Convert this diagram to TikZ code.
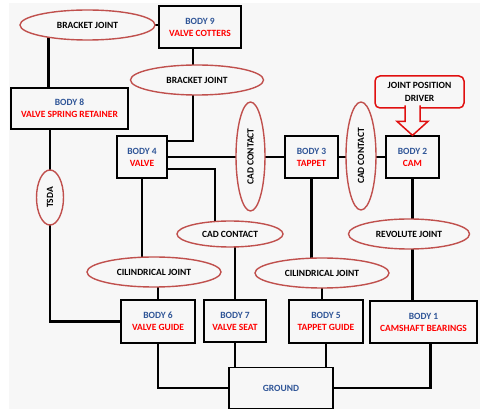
\documentclass[tikz,border=0pt]{standalone}
\usepackage{fontspec}
\setmainfont{Carlito}
\usetikzlibrary{shapes.geometric,backgrounds}
\definecolor{jointred}{HTML}{C0504D}
\definecolor{bodyblue}{HTML}{2F5597}
\definecolor{namered}{HTML}{FF0000}
\definecolor{drvred}{HTML}{E01010}
\definecolor{paper}{HTML}{F7F7F7}
\tikzset{every node/.append style={font=\bfseries\fontsize{9.5}{12}\selectfont}}
\tikzset{
  body/.style={draw, line width=1.3pt, fill=paper, align=center, inner sep=1pt, minimum height=42pt},
  joint/.style={draw=jointred, shape=ellipse, line width=1.4pt, fill=paper, inner sep=1pt},
  link/.style={line width=2.6pt},
  drvline/.style={draw=drvred, line width=1.5pt}
}
\newcommand{\bodytext}[2]{\textcolor{bodyblue}{BODY #1}\\\textcolor{namered}{#2}}

\begin{document}
\begin{tikzpicture}[x=1pt, y=-1pt]
    \useasboundingbox (0,0) rectangle (480,409);

    \node[body, minimum width=82pt] (b9) at (200,27) {\bodytext{9}{VALVE COTTERS}};
    \node[body, minimum width=117pt, minimum height=41pt] (b8) at (69.5,108.5) {\bodytext{8}{VALVE SPRING RETAINER}};
    \node[body, minimum width=50pt] (b4) at (142,157) {\bodytext{4}{VALVE}};
    \node[body, minimum width=53pt] (b3) at (311.5,157) {\bodytext{3}{TAPPET}};
    \node[body, minimum width=53pt] (b2) at (412.5,157) {\bodytext{2}{CAM}};
    \node[body, minimum width=74pt, minimum height=43pt] (b6) at (158,321.5) {\bodytext{6}{VALVE GUIDE}};
    \node[body, minimum width=62pt] (b7) at (235,321) {\bodytext{7}{VALVE SEAT}};
    \node[body, minimum width=74pt, minimum height=43pt] (b5) at (326,321.5) {\bodytext{5}{TAPPET GUIDE}};
    \node[body, minimum width=107pt] (b1) at (423.5,322) {\bodytext{1}{CAMSHAFT BEARINGS}};
    \node[body, minimum width=104pt, minimum height=41pt, text=bodyblue] (gnd) at (281,388) {GROUND};

    \node[joint, minimum width=135pt, minimum height=30pt] (bj1) at (87.5,25) {BRACKET JOINT};
    \node[joint, minimum width=133pt, minimum height=30pt] (bj2) at (197,80) {BRACKET JOINT};
    \node[joint, rotate=90, minimum width=109pt, minimum height=29pt] (cad1) at (250.5,156.5) {CAD CONTACT};
    \node[joint, rotate=90, minimum width=108pt, minimum height=30pt] (cad2) at (361,156) {CAD CONTACT};
    \node[joint, minimum width=106pt, minimum height=26pt] (cad3) at (230,234) {CAD CONTACT};
    \node[joint, minimum width=134pt, minimum height=30pt] (cyl1) at (154,272) {CILINDRICAL JOINT};
    \node[joint, minimum width=134pt, minimum height=30pt] (cyl2) at (322,273) {CILINDRICAL JOINT};
    \node[joint, minimum width=121pt, minimum height=30pt] (rev) at (409,234) {REVOLUTE JOINT};
    \node[joint, rotate=90, minimum width=55pt, minimum height=27pt] (tsda) at (50,197.5) {TSDA};

    \node[drvline, rounded corners=5pt, fill=paper, minimum width=89pt, minimum height=32pt, align=center,
      font=\bfseries\fontsize{9.5}{13}\selectfont] (drv) at (419.5,92) {JOINT POSITION\\DRIVER};
    \fill[paper] (b2.north) -- ++(-15.5,-14) -- ++(8,0) -- ++(0,-16) -- ++(15,0) -- ++(0,16) -- ++(8,0) -- cycle;
    \draw[drvline] ([shift={(-7.5,-30)}]b2.north) -- ++(0,16) -- ++(-8,0) -- (b2.north)
      -- ++(15.5,-14) -- ++(-8,0) -- ++(0,-16);

    \begin{scope}[on background layer]
      \fill[paper] (9,3) rectangle (480,409);
      \draw[link]
        (bj1.center) -- (bj1.center -| b9.center)
        ([xshift=-21pt]b8.center) -- ([xshift=-21pt]b8.center |- bj1.center)
        ([xshift=-7pt]b9.center) -- ([xshift=-7pt]b9.center |- bj2.center)
        ([xshift=-4pt]bj2.center) |- ([yshift=16pt]b4.center)
        (b4.center) -- (b2.center)
        ([yshift=-12pt]b4.center) -| ([xshift=-15pt]cad3.center)
        (b7.center |- cad3.center) -- (b7.center |- gnd.center)
        (b4.center) -- (b4.center |- cyl1.center)
        (b6.center) -- (b6.center |- cyl1.center)
        (tsda.center) -- (tsda.center |- b8.center)
        (tsda.center) |- (b6.center)
        (b6.center) |- (gnd.center)
        (b3.center) -- (b3.center |- cyl2.center)
        (cyl2.center) -- (cyl2.center |- b5.center)
        (b5.center) -- (b5.center |- gnd.center)
        (b2.center) -- (b2.center |- b1.center)
        ([xshift=7pt]b1.center) |- (gnd.center);
    \end{scope}
\end{tikzpicture}
\end{document}
